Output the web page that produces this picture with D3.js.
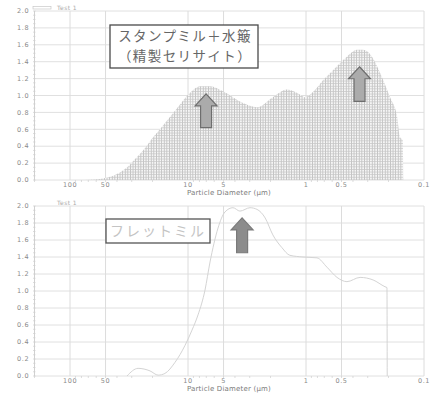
<!DOCTYPE html>
<html>
<head>
<meta charset="utf-8">
<script src="https://cdn.jsdelivr.net/npm/d3@7"></script>
<style>
  html, body { margin: 0; padding: 0; background: #fff; }
  svg { display: block; }
  .tick-label { font-family: "DejaVu Sans", sans-serif; font-size: 6.5px; fill: #8a8a8a; letter-spacing: 0.6px; }
  .axis-title { font-family: "DejaVu Sans", sans-serif; font-size: 7px; fill: #7a7a7a; letter-spacing: 0.2px; }
  .legend { font-family: "DejaVu Sans", sans-serif; font-size: 6px; fill: #aaa; letter-spacing: 0.4px; }
  .jp { font-family: "Noto Sans CJK JP", sans-serif; }
</style>
</head>
<body>
<svg id="chart" width="433" height="403"></svg>
<script>
// Particle size distributions (volume %, by particle diameter in µm)
const stampDiameter = [75, 61.4, 50.4, 41.6, 34.2, 28.1, 23.1, 21.0, 17.3, 15.1, 12.4, 9.62, 7.91, 6.51, 5.05,
  3.42, 2.60, 1.91, 1.45, 1.12, 1.02, 0.873, 0.718, 0.590, 0.450, 0.370, 0.329, 0.276, 0.236, 0.194, 0.169, 0.160, 0.151, 0.150];
const stampValue = [0, 0.006, 0.024, 0.06, 0.13, 0.25, 0.38, 0.46, 0.60, 0.70, 0.85, 1.03, 1.11, 1.11, 1.05,
  0.91, 0.86, 0.98, 1.07, 1.01, 0.98, 1.04, 1.18, 1.30, 1.46, 1.54, 1.54, 1.46, 1.27, 0.98, 0.75, 0.51, 0.47, 0];

const fretDiameter = [32.9, 26.5, 21.0, 17.9, 15.7, 12.9, 10.6, 9.25, 8.22, 7.18, 6.51, 5.57, 4.86, 4.16, 3.63,
  2.98, 2.60, 2.22, 1.91, 1.60, 1.37, 1.06, 0.807, 0.664, 0.546, 0.450, 0.348, 0.270, 0.214, 0.206, 0.205];
const fretValue = [0, 0.09, 0.06, 0.01, 0.03, 0.16, 0.36, 0.54, 0.72, 1.01, 1.34, 1.74, 1.93, 1.98, 1.94,
  1.98, 1.96, 1.86, 1.66, 1.51, 1.42, 1.40, 1.39, 1.28, 1.16, 1.11, 1.16, 1.13, 1.05, 1.04, 0];

const xTickValues = [100, 50, 10, 5, 1, 0.5, 0.1];
const xTickLabels = ["100", "50", "10", "5", "1", "0.5", "0.1"];
const yTickValues = [0, 0.2, 0.4, 0.6, 0.8, 1.0, 1.2, 1.4, 1.6, 1.8, 2.0];
const legendName = "Test 1";
const xTitle = "Particle Diameter (µm)";
const stampLabel = ["スタンプミル＋水簸", "（精製セリサイト）"];
const fretLabel = "フレットミル";

// arrows: [diameter, tip value, tail value]
const stampArrows = [[7.03, 1.02, 0.62], [0.352, 1.34, 0.93]];
const fretArrows = [[3.48, 1.86, 1.45]];

const svg = d3.select("#chart");
const defs = svg.append("defs");

// fine mesh used for the histogram fill
const pat = defs.append("pattern").attr("id", "mesh")
  .attr("patternUnits", "userSpaceOnUse").attr("width", 2.6).attr("height", 2.6);
pat.append("rect").attr("width", 2.6).attr("height", 2.6).attr("fill", "#f5f5f5");
pat.append("rect").attr("x", 0).attr("y", 0).attr("width", 0.8).attr("height", 2.6).attr("fill", "#bcbcbc");
pat.append("rect").attr("x", 0).attr("y", 0).attr("width", 2.6).attr("height", 0.7).attr("fill", "#c6c6c6");

const x = d3.scaleLog().domain([200, 0.1]).range([34.5, 424]);

function drawPanel(cfg) {
  const y = d3.scaleLinear().domain([0, 2]).range([cfg.bottom, cfg.top]);
  const g = svg.append("g");

  // grid
  g.selectAll(".hg").data(yTickValues).join("line")
    .attr("x1", x.range()[0]).attr("x2", x.range()[1])
    .attr("y1", d => y(d)).attr("y2", d => y(d))
    .attr("stroke", "#e0e0e0").attr("stroke-width", 1);
  g.selectAll(".vg").data(xTickValues).join("line")
    .attr("x1", d => x(d)).attr("x2", d => x(d))
    .attr("y1", y(0)).attr("y2", y(2))
    .attr("stroke", "#dcdcdc").attr("stroke-width", 1);

  // y axis line with minor ticks
  g.append("line").attr("x1", x.range()[0]).attr("x2", x.range()[0])
    .attr("y1", y(0)).attr("y2", y(2)).attr("stroke", "#d0d0d0");
  g.selectAll(".ym").data(d3.range(0, 2.001, 0.05)).join("line")
    .attr("x1", x.range()[0] - 1.5).attr("x2", x.range()[0] + 1)
    .attr("y1", d => y(d)).attr("y2", d => y(d))
    .attr("stroke", "#cfcfcf").attr("stroke-width", 0.7);

  // x minor ticks (log)
  const minor = [];
  [100, 10, 1, 0.1].forEach(dec => { for (let k = 2; k <= 9; k++) { const v = dec * k; if (v <= 200 && v > 0.1) minor.push(v); } });
  g.selectAll(".xm").data(minor).join("line")
    .attr("x1", d => x(d)).attr("x2", d => x(d))
    .attr("y1", y(0)).attr("y2", y(0) + 2)
    .attr("stroke", "#cfcfcf").attr("stroke-width", 0.7);

  // y tick labels
  g.selectAll(".yl").data(yTickValues).join("text").attr("class", "tick-label")
    .attr("x", 17).attr("y", d => y(d)).attr("dy", "0.35em")
    .text(d => d.toFixed(1));

  // x tick labels
  g.selectAll(".xl").data(xTickValues).join("text").attr("class", "tick-label")
    .attr("x", (d) => x(d)).attr("y", y(0) + 5.2).attr("dy", "0.35em")
    .attr("text-anchor", "middle")
    .text((d, i) => xTickLabels[i]);

  g.append("text").attr("class", "axis-title")
    .attr("x", 229).attr("y", y(0) + 12.3).attr("dy", "0.35em")
    .attr("text-anchor", "middle").text(xTitle);

  // legend
  if (cfg.legendSwatch) {
    g.append("rect").attr("x", 33).attr("y", cfg.top - 4.5).attr("width", 18).attr("height", 2.5)
      .attr("fill", "none").attr("stroke", "#c8c8c8").attr("stroke-width", 0.7);
  }
  g.append("text").attr("class", "legend")
    .attr("x", 57).attr("y", cfg.top - 3).attr("dy", "0.35em").text(legendName);

  return { g, y };
}

function drawArrow(g, y, a, fill, stroke) {
  const cx = x(a[0]), tip = y(a[1]), tail = y(a[2]);
  const hw = 11, sw = 5.5, hh = 12;
  const pts = [[cx, tip], [cx + hw, tip + hh], [cx + sw, tip + hh], [cx + sw, tail],
    [cx - sw, tail], [cx - sw, tip + hh], [cx - hw, tip + hh]];
  g.append("path").attr("d", d3.line()(pts) + "Z")
    .attr("fill", fill).attr("stroke", stroke).attr("stroke-width", 1.2).attr("stroke-linejoin", "miter");
}

// ---- upper panel: stamp mill + elutriation ----
const upper = drawPanel({ top: 11, bottom: 180, legendSwatch: true });
const stampData = stampDiameter.map((d, i) => ({ d, v: stampValue[i] }));
upper.g.append("path").datum(stampData)
  .attr("d", d3.area().x(p => x(p.d)).y0(upper.y(0)).y1(p => upper.y(p.v)).curve(d3.curveMonotoneX))
  .attr("fill", "url(#mesh)");
stampArrows.forEach(a => drawArrow(upper.g, upper.y, a, "#ababab", "#6e6e6e"));

upper.g.append("rect").attr("x", 110).attr("y", 25).attr("width", 148).attr("height", 43)
  .attr("fill", "#fff").attr("stroke", "#4a4a4a").attr("stroke-width", 1.3);
upper.g.selectAll(".lbl").data(stampLabel).join("text").attr("class", "jp")
  .attr("x", 185).attr("y", (d, i) => 36.5 + i * 19.5).attr("dy", "0.35em")
  .attr("text-anchor", "middle").attr("font-size", 13.5).attr("letter-spacing", "1.4px").attr("fill", "#666")
  .text(d => d);

// ---- lower panel: fret mill ----
const lower = drawPanel({ top: 206, bottom: 376, legendSwatch: false });
const fretData = fretDiameter.map((d, i) => ({ d, v: fretValue[i] }));
lower.g.append("path").datum(fretData)
  .attr("d", d3.line().x(p => x(p.d)).y(p => lower.y(p.v)).curve(d3.curveMonotoneX))
  .attr("fill", "none").attr("stroke", "#d4d4d4").attr("stroke-width", 1);
fretArrows.forEach(a => drawArrow(lower.g, lower.y, a, "#8c8c8c", "#7a7a7a"));

lower.g.append("rect").attr("x", 106).attr("y", 219).attr("width", 104).attr("height", 24)
  .attr("fill", "#fff").attr("stroke", "#555").attr("stroke-width", 1.3);
lower.g.append("text").attr("class", "jp")
  .attr("x", 158).attr("y", 231).attr("dy", "0.35em")
  .attr("text-anchor", "middle").attr("font-size", 14).attr("letter-spacing", "2px").attr("fill", "#c4c4c4")
  .text(fretLabel);
</script>
</body>
</html>
